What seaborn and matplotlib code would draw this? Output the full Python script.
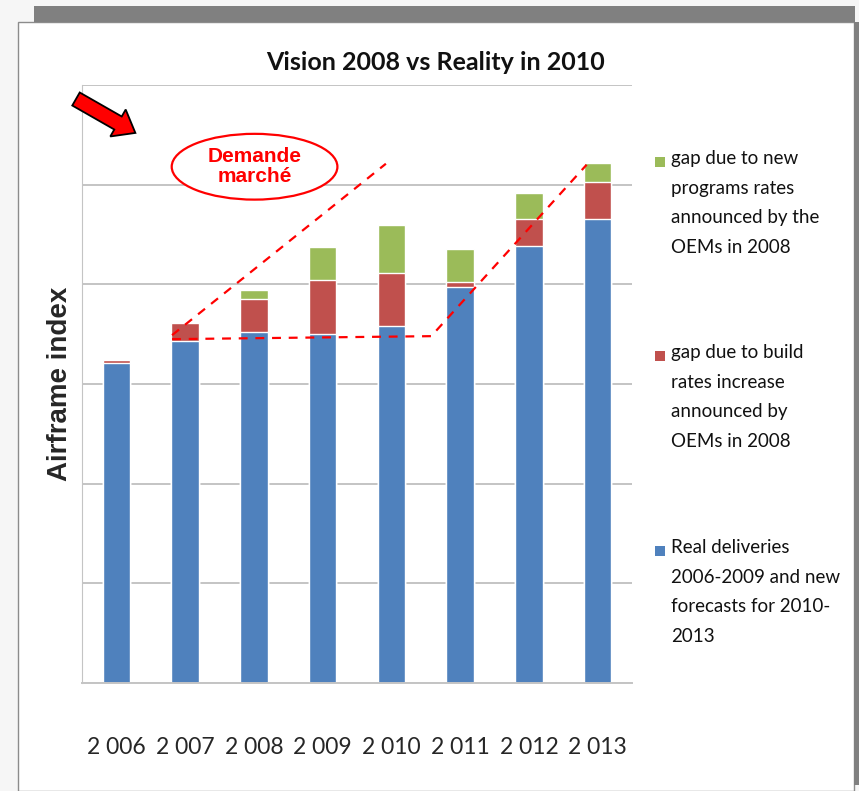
import pandas as pd
import matplotlib.pyplot as plt
import matplotlib.patches as mpatches
import matplotlib.transforms as mtransforms
import seaborn as sns

# Chart data (index units, one gridline per unit)
years = ["2 006", "2 007", "2 008", "2 009", "2 010", "2 011", "2 012", "2 013"]
real_deliveries = [3.21, 3.43, 3.52, 3.50, 3.58, 3.97, 4.38, 4.66]
build_rate_gap = [0.03, 0.18, 0.33, 0.54, 0.53, 0.05, 0.28, 0.37]
program_gap = [0.00, 0.00, 0.09, 0.33, 0.49, 0.33, 0.26, 0.19]

labels = {
    "program": "gap due to new\nprograms rates\nannounced by the\nOEMs in 2008",
    "build": "gap due to build\nrates increase\nannounced by\nOEMs in 2008",
    "real": "Real deliveries\n2006-2009 and new\nforecasts for 2010-\n2013",
}
colors = {"real": "#4F81BD", "build": "#C0504D", "program": "#9BBB59"}

# Dashed "market demand" guide lines (x in category units, y in index units)
demand_upper_x = [0.81, 3.92]
demand_upper_y = [3.49, 5.21]
demand_lower_x = [0.81, 4.58, 6.84]
demand_lower_y = [3.45, 3.48, 5.20]

df = pd.DataFrame({"Year": years, "real": real_deliveries,
                   "build": build_rate_gap, "program": program_gap})
df["real_build"] = df["real"] + df["build"]
df["total"] = df["real_build"] + df["program"]

sns.set_style("white")
plt.rcParams["font.family"] = ["Lato", "DejaVu Sans"]

W, H = 859, 791
fig = plt.figure(figsize=(W / 100, H / 100), dpi=100, facecolor="#f6f6f6")
px = mtransforms.IdentityTransform()

# Slide frame (behind the axes)
fig.add_artist(mpatches.Rectangle((18, 0), 836, H - 22, transform=px, zorder=-5,
                                  facecolor="white", edgecolor="#8c8c8c", lw=1))
fig.add_artist(mpatches.Rectangle((34, H - 22), 821, 16, transform=px, zorder=-4,
                                  facecolor="#808080", edgecolor="none"))
fig.add_artist(mpatches.Rectangle((854, H - 785), 5, 763, transform=px, zorder=-4,
                                  facecolor="#808080", edgecolor="none"))

ax = fig.add_axes([82 / W, 1 - 683 / H, 550 / W, 598 / H])
ax.set_facecolor("none")

# Stacked bars drawn as overlapping cumulative totals
sns.barplot(data=df, x="Year", y="total", color=colors["program"],
            width=0.4, saturation=1, ax=ax)
sns.barplot(data=df, x="Year", y="real_build", color=colors["build"],
            width=0.4, saturation=1, ax=ax)
sns.barplot(data=df, x="Year", y="real", color=colors["real"],
            width=0.4, saturation=1, ax=ax)

ax.set_ylim(0, 6)
ax.set_xlim(-0.5, len(years) - 0.5)
ax.set_yticks(range(0, 7))
ax.set_yticklabels([])
ax.yaxis.grid(True, color="#c4c4c4", lw=1.4)
ax.set_axisbelow(True)
for s in ["top", "right"]:
    ax.spines[s].set_visible(False)
ax.spines["left"].set_color("#c4c4c4")
ax.spines["bottom"].set_color("#c4c4c4")
ax.spines["bottom"].set_linewidth(1.4)
ax.tick_params(axis="y", length=0)
ax.set_xticks([i - 0.5 for i in range(len(years) + 1)], minor=True)
ax.tick_params(axis="x", which="minor", length=13, color="#c4c4c4", width=1.2)
ax.tick_params(axis="x", which="major", length=0, pad=39, labelsize=16.5)
ax.set_xlabel("")
ax.set_ylabel("Airframe index", fontsize=20, fontweight="bold",
              family=["Liberation Sans", "DejaVu Sans"], labelpad=3)

# Demand guides
ax.plot(demand_upper_x, demand_upper_y, color="red", ls=(0, (4, 3.5)), lw=1.6)
ax.plot(demand_lower_x, demand_lower_y, color="red", ls=(0, (4, 3.5)), lw=1.6)

ell = mpatches.Ellipse((2.01, 5.18), 2.41, 0.66, facecolor="white",
                       edgecolor="red", lw=1.6, clip_on=False, zorder=5)
ax.add_patch(ell)
ax.text(2.01, 5.18, "Demande\nmarché", color="red", fontsize=15,
        fontweight="bold", ha="center", va="center", linespacing=1.05,
        family=["Liberation Sans", "DejaVu Sans"], zorder=6)

# Block arrow
fig.add_artist(mpatches.FancyArrow(76, H - 99, 42, -24, width=15,
                                   head_width=31, head_length=20,
                                   length_includes_head=False, transform=px,
                                   facecolor="#ff0000", edgecolor="black", lw=1.3))

# Title
fig.text(436 / W, 1 - 62 / H, "Vision 2008 vs Reality in 2010", ha="center",
         va="center", fontsize=18, fontweight="bold", color="#111111")

# Legend
for key, top in [("program", 150), ("build", 344), ("real", 539)]:
    fig.add_artist(mpatches.Rectangle((655, H - top - 17), 10, 10, transform=px,
                                      facecolor=colors[key], edgecolor="none"))
    fig.text(671 / W, 1 - top / H, labels[key], ha="left", va="top",
             fontsize=13.5, linespacing=1.9, color="#111111")

fig.savefig("out.png", dpi=100, facecolor=fig.get_facecolor())
